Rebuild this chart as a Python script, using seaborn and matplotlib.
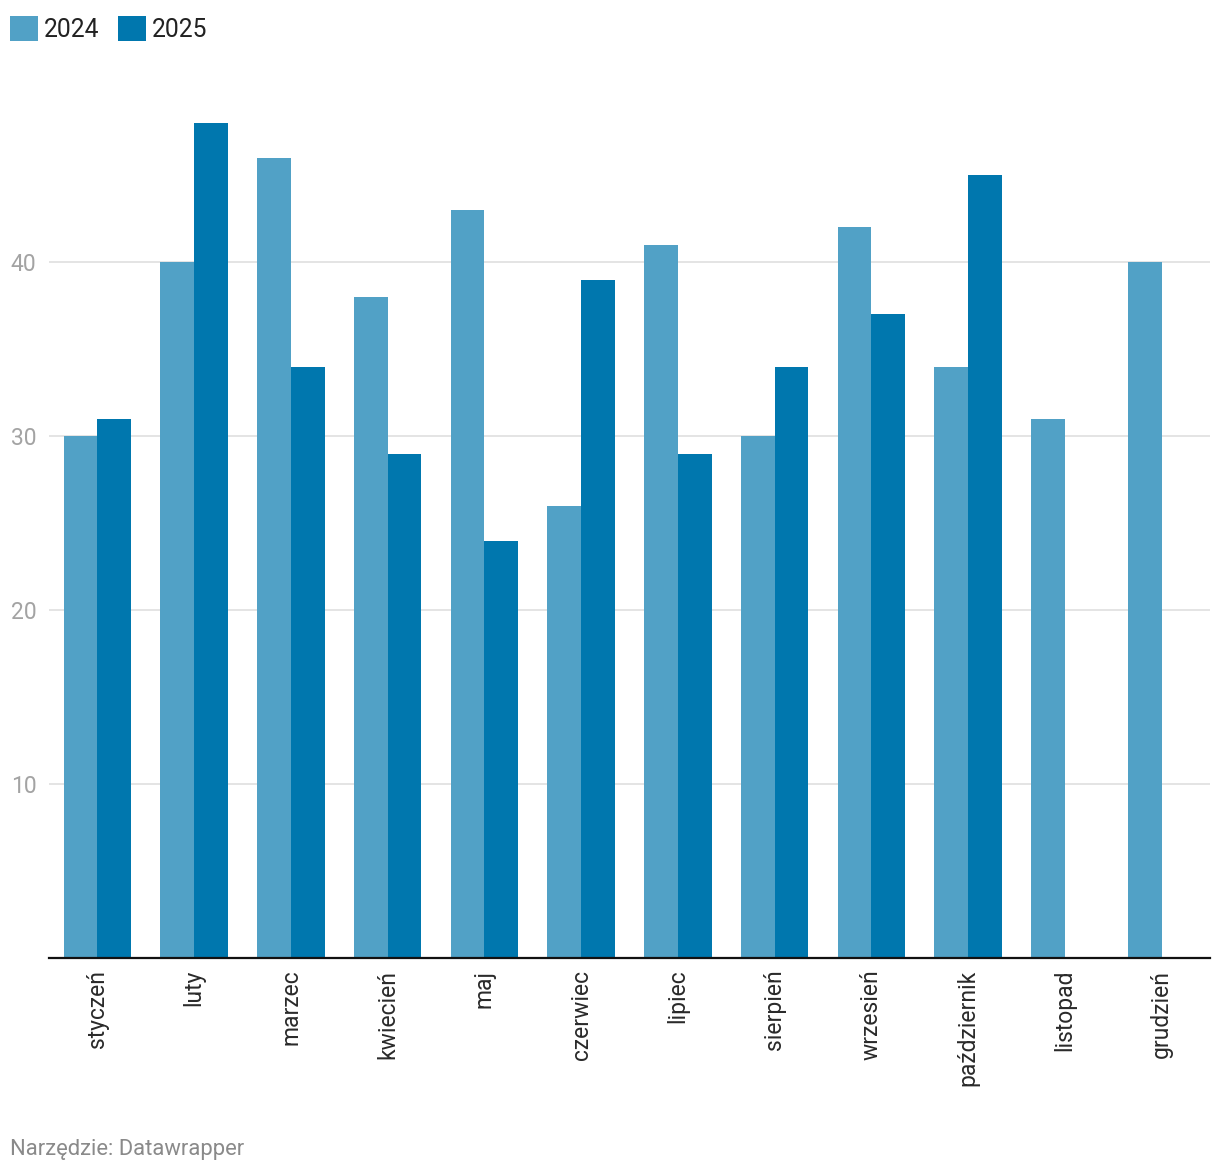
import matplotlib
matplotlib.use('Agg')
import matplotlib.pyplot as plt
from matplotlib.patches import Patch
import seaborn as sns
import pandas as pd
import numpy as np

months = ['styczeń', 'luty', 'marzec', 'kwiecień', 'maj', 'czerwiec', 'lipiec',
          'sierpień', 'wrzesień', 'październik', 'listopad', 'grudzień']
values_2024 = [30, 40, 46, 38, 43, 26, 41, 30, 42, 34, 31, 40]
values_2025 = [31, 48, 34, 29, 24, 39, 29, 34, 37, 45, np.nan, np.nan]
years = ['2024', '2025']
colors = ['#51a1c6', '#0077ae']

df = pd.DataFrame({
    'month': months * 2,
    'year': ['2024'] * 12 + ['2025'] * 12,
    'value': values_2024 + values_2025,
})

sns.set_style('white')
plt.rcParams['font.family'] = ['Roboto', 'DejaVu Sans']

W, H = 1220, 1174
fig = plt.figure(figsize=(W / 100, H / 100), dpi=100)
ax = fig.add_axes([49 / W, 1 - 958 / H, (1210 - 49) / W, (958 - 123) / H])

sns.barplot(data=df, x='month', y='value', hue='year', hue_order=years,
            order=months, palette=colors, width=0.7, saturation=1,
            errorbar=None, ax=ax, legend=False, zorder=3, linewidth=0)

ax.set_xlim(-0.5, 11.5)
ax.set_ylim(0, 48)
ax.set_yticks([10, 20, 30, 40])
ax.yaxis.grid(True, color='#e2e2e2', linewidth=1.3, zorder=0)
ax.set_axisbelow(True)
ax.set_xlabel('')
ax.set_ylabel('')

for side in ['top', 'right', 'left']:
    ax.spines[side].set_visible(False)
ax.spines['bottom'].set_color('#111111')
ax.spines['bottom'].set_linewidth(1.6)
ax.spines['bottom'].set_zorder(5)

ax.tick_params(axis='y', length=0, pad=9, labelsize=16.5, labelcolor='#a3a3a3')
ax.tick_params(axis='x', length=0, pad=8.5, labelsize=16.5, labelcolor='#2a2a2a')
plt.setp(ax.get_xticklabels(), rotation=90, va='top', ha='center')

handles = [Patch(facecolor=c, edgecolor='none') for c in colors]
fig.legend(handles, years, loc='upper left', bbox_to_anchor=(10 / W, 1 - 16 / H),
           ncol=2, frameon=False, fontsize=17.8, handlelength=1.15, handleheight=1.15,
           handletextpad=0.22, columnspacing=0.75, borderpad=0, borderaxespad=0,
           labelcolor='#222222')

fig.text(10 / W, 1 - 1150 / H, 'Narzędzie: Datawrapper', fontsize=15.8,
         color='#8a8a8a', va='center', ha='left')

fig.savefig('out.png', dpi=100)
